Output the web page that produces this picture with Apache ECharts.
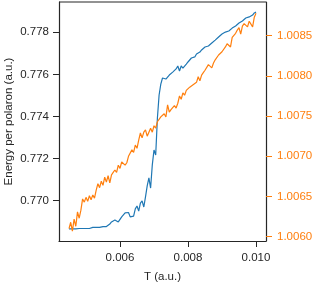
<!DOCTYPE html>
<html>
<head>
<meta charset="utf-8">
<script src="https://cdn.jsdelivr.net/npm/echarts@6/dist/echarts.min.js"></script>
<style>
  html, body { margin: 0; padding: 0; background: #fff; }
  #chart { width: 312px; height: 283px; }
</style>
</head>
<body>
<div id="chart"></div>
<script>
// temperature samples (a.u.)
var temps = [
  0.00450, 0.00455, 0.00460, 0.00465, 0.00470, 0.00475, 0.00480, 0.00485, 0.00490, 0.00495,
  0.00500, 0.00505, 0.00510, 0.00515, 0.00520, 0.00525, 0.00530, 0.00535, 0.00540, 0.00545,
  0.00550, 0.00555, 0.00560, 0.00565, 0.00570, 0.00575, 0.00580, 0.00585, 0.00590, 0.00595,
  0.00600, 0.00605, 0.00610, 0.00615, 0.00620, 0.00625, 0.00630, 0.00635, 0.00640, 0.00645,
  0.00650, 0.00655, 0.00660, 0.00665, 0.00670, 0.00675, 0.00680, 0.00685, 0.00690, 0.00695,
  0.00700, 0.00705, 0.00710, 0.00715, 0.00720, 0.00725, 0.00730, 0.00735, 0.00740, 0.00745,
  0.00750, 0.00755, 0.00760, 0.00765, 0.00770, 0.00775, 0.00780, 0.00785, 0.00790, 0.00795,
  0.00800, 0.00805, 0.00810, 0.00815, 0.00820, 0.00825, 0.00830, 0.00835, 0.00840, 0.00845,
  0.00850, 0.00855, 0.00860, 0.00865, 0.00870, 0.00875, 0.00880, 0.00885, 0.00890, 0.00895,
  0.00900, 0.00905, 0.00910, 0.00915, 0.00920, 0.00925, 0.00930, 0.00935, 0.00940, 0.00945,
  0.00950, 0.00955, 0.00960, 0.00965, 0.00970, 0.00975, 0.00980, 0.00985, 0.00990, 0.00995,
  0.01000
];

// energy per polaron, left axis (blue)
var energy = [
  0.76866, 0.76863, 0.76866, 0.76863, 0.76866, 0.76866, 0.76868, 0.76866, 0.76868, 0.76870,
  0.76868, 0.76870, 0.76868, 0.76870, 0.76873, 0.76870, 0.76873, 0.76875, 0.76873, 0.76875,
  0.76877, 0.76875, 0.76877, 0.76880, 0.76889, 0.76899, 0.76904, 0.76908, 0.76901, 0.76899,
  0.76908, 0.76923, 0.76932, 0.76942, 0.76937, 0.76944, 0.76923, 0.76918, 0.76927, 0.76961,
  0.76975, 0.76951, 0.76989, 0.76999, 0.76970, 0.77018, 0.77070, 0.77108, 0.77060, 0.77170,
  0.77241, 0.77217, 0.77393, 0.77502, 0.77554, 0.77583, 0.77588, 0.77578, 0.77583, 0.77597,
  0.77602, 0.77611, 0.77607, 0.77626, 0.77640, 0.77616, 0.77640, 0.77630, 0.77630, 0.77649,
  0.77659, 0.77668, 0.77678, 0.77687, 0.77683, 0.77697, 0.77692, 0.77706, 0.77716, 0.77725,
  0.77730, 0.77725, 0.77735, 0.77744, 0.77749, 0.77754, 0.77763, 0.77763, 0.77778, 0.77782,
  0.77792, 0.77797, 0.77801, 0.77797, 0.77806, 0.77811, 0.77820, 0.77820, 0.77830, 0.77839,
  0.77844, 0.77849, 0.77854, 0.77863, 0.77868, 0.77868, 0.77873, 0.77877, 0.77882, 0.77892,
  0.77896
];

// second quantity, right axis (orange)
var ratio = [
  1.00610, 1.00618, 1.00607, 1.00622, 1.00613, 1.00631, 1.00623, 1.00633, 1.00647, 1.00643,
  1.00649, 1.00644, 1.00651, 1.00646, 1.00652, 1.00648, 1.00658, 1.00666, 1.00661, 1.00669,
  1.00664, 1.00674, 1.00668, 1.00676, 1.00667, 1.00677, 1.00680, 1.00683, 1.00680, 1.00689,
  1.00685, 1.00693, 1.00695, 1.00689, 1.00692, 1.00700, 1.00698, 1.00708, 1.00705, 1.00714,
  1.00710, 1.00720, 1.00729, 1.00723, 1.00730, 1.00733, 1.00725, 1.00730, 1.00735, 1.00730,
  1.00738, 1.00735, 1.00743, 1.00744, 1.00749, 1.00748, 1.00753, 1.00749, 1.00764, 1.00755,
  1.00758, 1.00759, 1.00763, 1.00760, 1.00766, 1.00775, 1.00771, 1.00779, 1.00776, 1.00782,
  1.00780, 1.00786, 1.00785, 1.00789, 1.00787, 1.00792, 1.00799, 1.00794, 1.00801, 1.00804,
  1.00807, 1.00809, 1.00814, 1.00812, 1.00810, 1.00816, 1.00820, 1.00822, 1.00826, 1.00825,
  1.00830, 1.00832, 1.00836, 1.00840, 1.00842, 1.00836, 1.00848, 1.00850, 1.00853, 1.00857,
  1.00860, 1.00852, 1.00862, 1.00865, 1.00866, 1.00861, 1.00868, 1.00870, 1.00861, 1.00873,
  1.00878
];

var xTicks = [0.006, 0.008, 0.010];
var leftTicks = [0.770, 0.772, 0.774, 0.776, 0.778];
var rightTicks = [1.0060, 1.0065, 1.0070, 1.0075, 1.0080, 1.0085];

var BLUE = '#1f77b4';
var ORANGE = '#ff7f0e';
var INK = '#262626';
var FONT = 'Liberation Sans, Arial, sans-serif';
var FS = 11.5;

function pairs(ys) {
  var out = [];
  for (var i = 0; i < ys.length; i++) out.push([temps[i], ys[i]]);
  return out;
}

var chart = echarts.init(document.getElementById('chart'), null, { renderer: 'canvas' });

chart.setOption({
  animation: false,
  backgroundColor: '#fff',
  grid: { left: 59, right: 46, top: 2, bottom: 42, containLabel: false, outerBoundsMode: 'none' },
  xAxis: {
    type: 'value',
    min: 0.004206,
    max: 0.010294,
    name: 'T (a.u.)',
    nameLocation: 'middle',
    nameGap: 30,
    nameMoveOverlap: false,
    nameTextStyle: { color: INK, fontSize: FS, fontFamily: FONT },
    axisLine: { show: true, lineStyle: { color: INK, width: 1.2 } },
    axisTick: { show: true, length: 6, lineStyle: { color: INK, width: 1 }, customValues: xTicks },
    axisLabel: {
      color: INK, fontSize: FS, fontFamily: FONT, margin: 11,
      customValues: xTicks,
      formatter: function (v) { return v.toFixed(3); }
    },
    splitLine: { show: false }
  },
  yAxis: [
    {
      type: 'value',
      position: 'left',
      min: 0.768085,
      max: 0.77944,
      name: 'Energy per polaron (a.u.)',
      nameLocation: 'middle',
      nameGap: 44,
      nameMoveOverlap: false,
      nameRotate: 90,
      nameTextStyle: { color: INK, fontSize: FS, fontFamily: FONT },
      axisLine: { show: true, lineStyle: { color: INK, width: 1.2 } },
      axisTick: { show: true, length: 6, lineStyle: { color: INK, width: 1 }, customValues: leftTicks },
      axisLabel: {
        color: INK, fontSize: FS, fontFamily: FONT, margin: 10,
        customValues: leftTicks,
        formatter: function (v) { return v.toFixed(3); }
      },
      splitLine: { show: false }
    },
    {
      type: 'value',
      position: 'right',
      min: 1.005947,
      max: 1.008919,
      axisLine: { show: true, lineStyle: { color: INK, width: 1.2 } },
      axisTick: { show: true, length: 6, lineStyle: { color: ORANGE, width: 1 }, customValues: rightTicks },
      axisLabel: {
        color: ORANGE, fontSize: FS, fontFamily: FONT, margin: 11,
        customValues: rightTicks,
        formatter: function (v) { return v.toFixed(4); }
      },
      splitLine: { show: false }
    }
  ],
  series: [
    {
      type: 'line',
      yAxisIndex: 0,
      data: pairs(energy),
      showSymbol: false,
      lineStyle: { color: BLUE, width: 1.2 },
      itemStyle: { color: BLUE },
      z: 2
    },
    {
      type: 'line',
      yAxisIndex: 1,
      data: pairs(ratio),
      showSymbol: false,
      lineStyle: { color: ORANGE, width: 1.2 },
      itemStyle: { color: ORANGE },
      z: 3
    }
  ],
  graphic: [
    {
      // top spine of the frame
      type: 'line',
      shape: { x1: 59, y1: 2, x2: 266, y2: 2 },
      style: { stroke: INK, lineWidth: 1.2 },
      z: 10
    }
  ]
});
</script>
</body>
</html>
